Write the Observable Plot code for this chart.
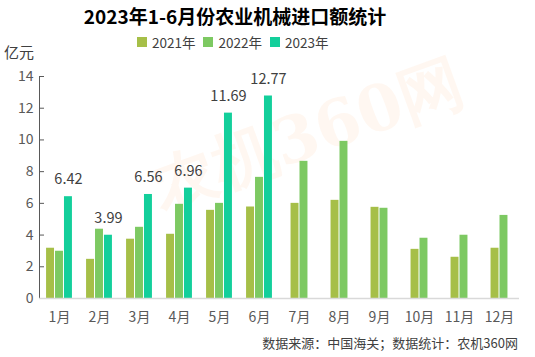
<!DOCTYPE html>
<html><head><meta charset="utf-8">
<script src="https://cdn.jsdelivr.net/npm/d3@7"></script>
<script src="https://cdn.jsdelivr.net/npm/@observablehq/plot@0.6"></script>
<style>
body{margin:0;background:#fff;font-family:"Noto Sans CJK SC","Noto Sans",sans-serif;}
#wrap{position:relative;width:535px;height:357px;overflow:hidden;}
#wrap svg{position:absolute;left:0;top:0;}
.t{position:absolute;white-space:nowrap;}
#title{left:0;width:470px;top:2px;text-align:center;font-size:19px;font-weight:bold;color:#000;}
#legend{top:32px;left:137px;font-size:13.5px;color:#404040;display:flex;gap:0;}
#legend span.i{display:inline-flex;align-items:center;margin-right:8px;}
#legend span.sw{display:inline-block;width:10px;height:10px;margin-right:5px;}
#unit{left:4px;top:41px;font-size:15px;color:#404040;}
#cap{right:17px;top:333px;font-size:13px;color:#404040;}
#wm{left:140px;top:150px;font-size:64px;font-weight:bold;font-family:"DejaVu Serif",serif;color:rgba(250,165,100,0.09);transform:rotate(-20deg);transform-origin:left top;pointer-events:none;}
</style></head>
<body><div id="wrap">
<div class="t" id="wm">农机360网</div>
<div class="t" id="title">2023年1-6月份农业机械进口额统计</div>
<div class="t" id="legend"></div>
<div class="t" id="unit">亿元</div>
<div class="t" id="cap">数据来源：中国海关；数据统计：农机360网</div>
</div>
<script>
const months = ["1月","2月","3月","4月","5月","6月","7月","8月","9月","10月","11月","12月"];
const years = ["2021年","2022年","2023年"];
const v2021 = [3.17,2.47,3.74,4.05,5.56,5.77,6.00,6.19,5.75,3.10,2.60,3.17];
const v2022 = [2.98,4.37,4.49,5.94,6.00,7.64,8.65,9.91,5.69,3.80,3.99,5.24];
const v2023 = [6.42,3.99,6.56,6.96,11.69,12.77];
const colors = ["#a6bf48","#7dc962","#13cf9b"];
const yTicks = [0,2,4,6,8,10,12,14];

const series = [v2021, v2022, v2023];
const data = [];
months.forEach((m, i) => {
  const present = series.map((s, k) => k).filter(k => series[k][i] != null);
  present.forEach((k, slot) => {
    const c = slot - (present.length - 1) / 2;
    data.push({month: m, year: years[k], value: series[k][i], x1: c - 0.5, x2: c + 0.5, xc: c, label: k === 2});
  });
});

const legend = document.getElementById("legend");
years.forEach((y, k) => {
  const s = document.createElement("span"); s.className = "i";
  s.innerHTML = `<span class="sw" style="background:${colors[k]}"></span>${y}`;
  legend.appendChild(s);
});

const half = 40.2 / 9 / 2;
const chart = Plot.plot({
  width: 535, height: 357,
  marginTop: 76, marginBottom: 59, marginLeft: 38, marginRight: 15,
  style: {fontFamily: '"Noto Sans CJK SC","Noto Sans",sans-serif', fontSize: "14px", background: "transparent", color: "#595959", overflow: "visible"},
  facet: {data, x: "month"},
  fx: {domain: months, padding: 0, label: null, axis: "bottom", tickSize: 0, tickPadding: 14},
  x: {domain: [-half, half], axis: null},
  y: {domain: [0, 14], ticks: yTicks, label: null, line: true, tickSize: -5, tickPadding: 11, tickFormat: d3.format("d")},
  color: {domain: years, range: colors},
  marks: [
    Plot.rectY(data, {x1: "x1", x2: "x2", y: "value", fill: "year", insetLeft: 0.5, insetRight: 0.5}),
    Plot.text(data, {filter: d => d.label, x: "xc", y: "value", text: d => d.value.toFixed(2), dy: -17, fill: "#404040", fontSize: 14.5}),
    Plot.ruleY([0], {stroke: "#d9d9d9", strokeWidth: 1.5})
  ]
});
document.getElementById("wrap").insertBefore(chart, document.getElementById("wm").nextSibling);
</script>
</body></html>
